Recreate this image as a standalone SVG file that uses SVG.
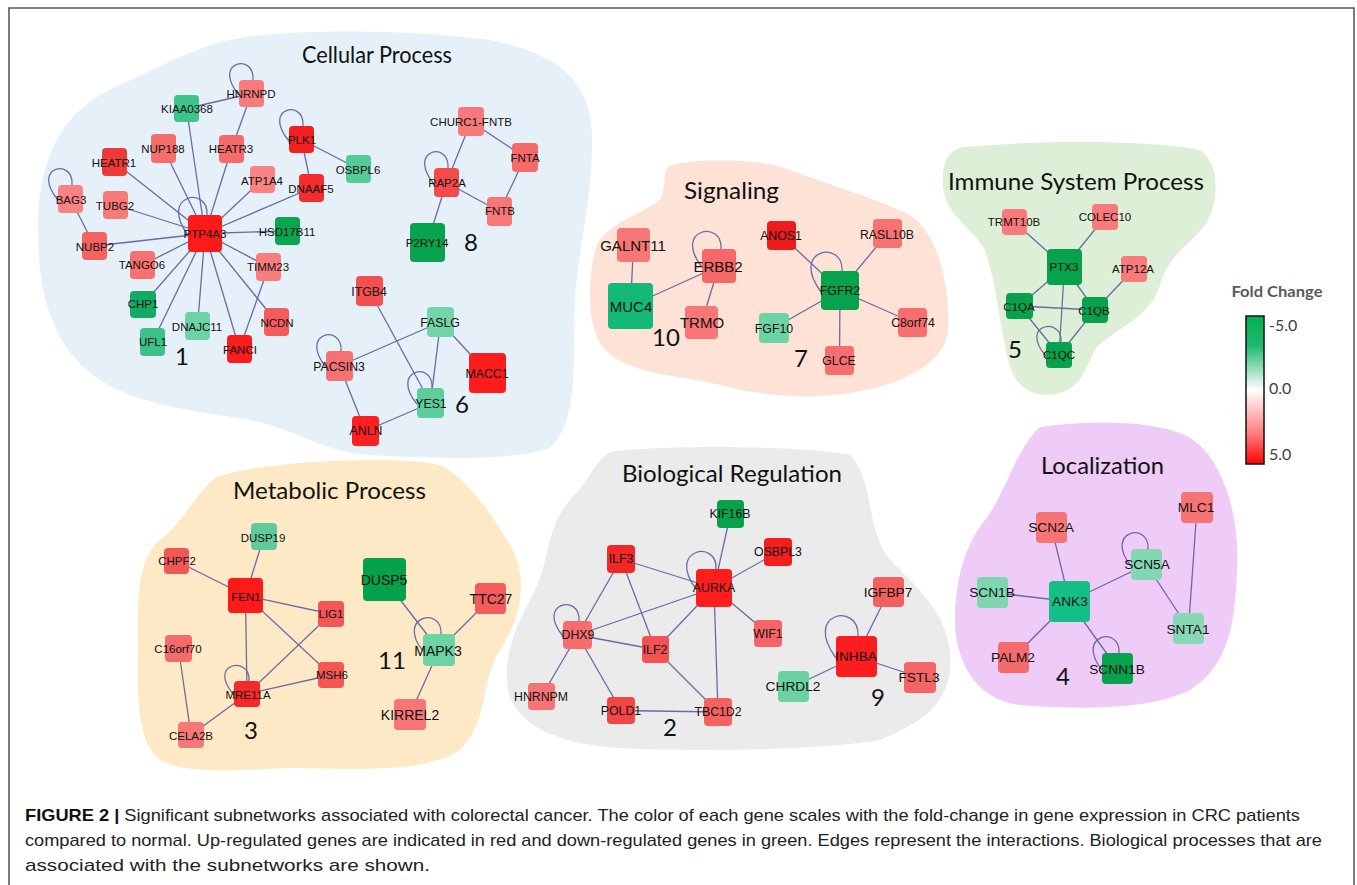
<svg xmlns="http://www.w3.org/2000/svg" width="1357" height="885" viewBox="0 0 1357 885">
<style>
.e{stroke:#6a6aa8;stroke-width:1.3;fill:none}
.n rect{rx:4;ry:4}
.n text{font-family:"Liberation Sans",Arial,sans-serif;text-anchor:middle;fill:#111}
.s11 text{font-size:11.5px}
.s12 text{font-size:12.3px}
.s13 text{font-size:13.7px}
.s14 text{font-size:14px}
.s15 text{font-size:15px}
.ti{font-family:Lato,"Open Sans",sans-serif;font-size:24px;fill:#111}
.num{font-family:Lato,"Open Sans",sans-serif;font-size:24px;fill:#111;text-anchor:middle}
.cap{font-family:"Liberation Sans",Arial,sans-serif;font-size:17px;fill:#222}
.lg{font-family:Lato,"Open Sans",sans-serif;font-size:16px;fill:#404040}
</style>
<defs>
<linearGradient id="fc" x1="0" y1="0" x2="0" y2="1">
<stop offset="0" stop-color="#00b050"/>
<stop offset="0.2" stop-color="#20b870"/>
<stop offset="0.5" stop-color="#ffffff"/>
<stop offset="0.8" stop-color="#ff7a7a"/>
<stop offset="1" stop-color="#ff0000"/>
</linearGradient>
</defs>
<rect width="1357" height="885" fill="#ffffff"/>
<path d="M9,885 V8 H1354 V885" fill="none" stroke="#5a5a5a" stroke-width="1.6"/>

<g id="blobs">
<path id="blob-cellular" fill="#e5f0f8" d="M240,38 C300,28 420,30 490,40 C560,55 595,80 592,150 C590,210 578,250 575,300 C572,360 580,420 550,448 C510,462 420,458 370,455 C320,452 300,430 250,420 C190,410 140,405 100,380 C55,350 38,300 38,230 C38,160 60,110 120,85 C170,62 200,45 240,38 Z"/>
<path id="blob-signaling" fill="#fde2d5" d="M672,165 C700,158 760,158 790,170 C830,185 880,200 910,215 C940,235 950,290 948,330 C945,365 900,385 850,393 C800,400 760,395 720,385 C680,375 630,375 605,350 C585,325 588,280 595,250 C602,225 640,215 660,200 C668,185 660,170 672,165 Z"/>
<path id="blob-immune" fill="#ddefd6" d="M965,147 C1040,140 1150,140 1200,150 C1222,165 1218,205 1205,225 C1190,245 1168,255 1160,285 C1150,320 1110,330 1095,350 C1085,370 1080,392 1050,395 C1015,395 1010,370 1005,345 C998,310 995,280 985,250 C970,225 945,215 943,185 C942,160 948,150 965,147 Z"/>
<path id="blob-metabolic" fill="#fde9c6" d="M215,478 C260,460 400,455 440,465 C470,480 495,520 510,545 C530,580 520,620 500,650 C480,680 490,720 460,750 C420,775 350,768 290,768 C240,770 190,775 160,760 C135,740 138,690 138,640 C138,590 138,560 160,540 C185,520 195,495 215,478 Z"/>
<path id="blob-bioreg" fill="#ebebeb" d="M610,452 C660,445 800,445 850,455 C875,480 865,530 890,560 C920,590 955,620 950,670 C945,710 915,725 880,740 C820,750 700,752 620,748 C560,745 515,725 508,690 C502,650 520,620 535,590 C550,560 545,530 570,500 C590,480 595,460 610,452 Z"/>
<path id="blob-local" fill="#efcbf8" d="M1040,427 C1090,420 1150,420 1185,435 C1225,455 1240,520 1237,570 C1235,620 1230,665 1190,690 C1150,710 1080,710 1020,705 C975,700 955,660 955,620 C955,580 965,545 985,520 C1005,495 1015,450 1040,427 Z"/>
</g>

<g id="titles">
<text class="ti" x="302" y="63" textLength="150" lengthAdjust="spacingAndGlyphs">Cellular Process</text>
<text class="ti" x="684" y="199" textLength="95" lengthAdjust="spacingAndGlyphs">Signaling</text>
<text class="ti" x="948" y="190" textLength="256" lengthAdjust="spacingAndGlyphs">Immune System Process</text>
<text class="ti" x="233" y="499" textLength="193" lengthAdjust="spacingAndGlyphs">Metabolic Process</text>
<text class="ti" x="622" y="482" textLength="220" lengthAdjust="spacingAndGlyphs">Biological Regulation</text>
<text class="ti" x="1041" y="474" textLength="123" lengthAdjust="spacingAndGlyphs">Localization</text>
</g>

<g id="connectors" class="e">
<!-- cluster 1 -->
<line x1="251.5" y1="93.5" x2="186.5" y2="108.5"/>
<line x1="251.5" y1="93.5" x2="231.5" y2="149"/>
<line x1="186.5" y1="108.5" x2="205" y2="233.5"/>
<line x1="163.5" y1="148.5" x2="205" y2="233.5"/>
<line x1="231.5" y1="149" x2="205" y2="233.5"/>
<line x1="114.5" y1="162" x2="205" y2="233.5"/>
<line x1="301.5" y1="139.5" x2="358.5" y2="169"/>
<line x1="301.5" y1="139.5" x2="311.5" y2="188"/>
<line x1="262.5" y1="179.5" x2="205" y2="233.5"/>
<line x1="311.5" y1="188" x2="205" y2="233.5"/>
<line x1="70.5" y1="199" x2="94.5" y2="246"/>
<line x1="115.5" y1="205" x2="205" y2="233.5"/>
<line x1="287.5" y1="231" x2="205" y2="233.5"/>
<line x1="94.5" y1="246" x2="205" y2="233.5"/>
<line x1="142.5" y1="265" x2="205" y2="233.5"/>
<line x1="268.5" y1="267" x2="205" y2="233.5"/>
<line x1="268.5" y1="267" x2="239.5" y2="349"/>
<line x1="143" y1="304.5" x2="205" y2="233.5"/>
<line x1="197.5" y1="326" x2="205" y2="233.5"/>
<line x1="276.5" y1="322" x2="205" y2="233.5"/>
<line x1="152.5" y1="342" x2="205" y2="233.5"/>
<line x1="239.5" y1="349" x2="205" y2="233.5"/>
<path d="M253,80 C255,52 211,62 239,95"/>
<path d="M303,126 C305,98 261,108 289,141"/>
<path d="M72,185 C74,157 30,167 58,200"/>
<path d="M207,215 C209,185 158,195 188,235"/>
<!-- cluster 8 -->
<line x1="471" y1="121.5" x2="446.5" y2="182.5"/>
<line x1="471" y1="121.5" x2="525" y2="157.5"/>
<line x1="525" y1="157.5" x2="499.5" y2="211.5"/>
<line x1="446.5" y1="182.5" x2="499.5" y2="211.5"/>
<line x1="446.5" y1="182.5" x2="427.5" y2="242.5"/>
<path d="M448,168 C450,140 406,150 434,184"/>
<!-- cluster 6 -->
<line x1="369.5" y1="291" x2="430.5" y2="403"/>
<line x1="440.5" y1="322" x2="339.5" y2="366"/>
<line x1="440.5" y1="322" x2="430.5" y2="403"/>
<line x1="440.5" y1="322" x2="487.5" y2="373"/>
<line x1="339.5" y1="366" x2="365.5" y2="431"/>
<line x1="365.5" y1="431" x2="430.5" y2="403"/>
<path d="M341,351 C343,323 298,333 326,367"/>
<path d="M432,388 C434,360 389,370 417,404"/>
<!-- cluster 10 -->
<line x1="633.5" y1="245" x2="630.5" y2="306"/>
<line x1="630.5" y1="306" x2="719" y2="266"/>
<line x1="719" y1="266" x2="701.5" y2="322.5"/>
<path d="M721,249 C723,219 672,229 702,267"/>
<!-- cluster 7 -->
<line x1="781.5" y1="235.5" x2="840" y2="290.5"/>
<line x1="887.5" y1="233.5" x2="840" y2="290.5"/>
<line x1="840" y1="290.5" x2="774" y2="328"/>
<line x1="840" y1="290.5" x2="912.5" y2="322.5"/>
<line x1="840" y1="290.5" x2="839.5" y2="360.5"/>
<path d="M842,271 C844,239 789,249 821,292"/>
<!-- cluster 5 -->
<line x1="1014.5" y1="222" x2="1064.5" y2="267"/>
<line x1="1105" y1="217" x2="1064.5" y2="267"/>
<line x1="1064.5" y1="267" x2="1019.5" y2="306"/>
<line x1="1064.5" y1="267" x2="1095" y2="310"/>
<line x1="1064.5" y1="267" x2="1059" y2="355"/>
<line x1="1134" y1="269" x2="1095" y2="310"/>
<line x1="1019.5" y1="306" x2="1095" y2="310"/>
<line x1="1019.5" y1="306" x2="1059" y2="355"/>
<line x1="1095" y1="310" x2="1059" y2="355"/>
<path d="M1061,342 C1063,316 1018,324 1046,356"/>
<!-- cluster 3 -->
<line x1="264" y1="536.5" x2="245.5" y2="595.5"/>
<line x1="176.5" y1="561" x2="245.5" y2="595.5"/>
<line x1="245.5" y1="595.5" x2="331" y2="614"/>
<line x1="245.5" y1="595.5" x2="331" y2="675"/>
<line x1="245.5" y1="595.5" x2="247" y2="694"/>
<line x1="331" y1="614" x2="247" y2="694"/>
<line x1="331" y1="675" x2="247" y2="694"/>
<line x1="247" y1="694" x2="191" y2="735"/>
<line x1="178.5" y1="648.5" x2="191" y2="735"/>
<path d="M249,681 C251,655 206,663 234,695"/>
<!-- cluster 11 -->
<line x1="384.5" y1="579.5" x2="439" y2="650"/>
<line x1="490.5" y1="598.5" x2="439" y2="650"/>
<line x1="439" y1="650" x2="410" y2="714.5"/>
<path d="M441,634 C443,606 395,616 423,651"/>
<!-- cluster 2 -->
<line x1="730.5" y1="514" x2="714" y2="588"/>
<line x1="778" y1="552" x2="714" y2="588"/>
<line x1="621" y1="559" x2="714" y2="588"/>
<line x1="621" y1="559" x2="577.5" y2="635"/>
<line x1="621" y1="559" x2="655.5" y2="649.5"/>
<line x1="714" y1="588" x2="577.5" y2="635"/>
<line x1="714" y1="588" x2="655.5" y2="649.5"/>
<line x1="714" y1="588" x2="768" y2="633.5"/>
<line x1="714" y1="588" x2="718" y2="712"/>
<line x1="577.5" y1="635" x2="655.5" y2="649.5"/>
<line x1="577.5" y1="635" x2="541.5" y2="696.5"/>
<line x1="577.5" y1="635" x2="621" y2="710.5"/>
<line x1="655.5" y1="649.5" x2="718" y2="712"/>
<line x1="621" y1="710.5" x2="718" y2="712"/>
<path d="M716,569 C718,539 666,549 696,589"/>
<path d="M579,621 C581,593 535,603 563,636"/>
<!-- cluster 9 -->
<line x1="888.5" y1="592" x2="856.5" y2="656.5"/>
<line x1="856.5" y1="656.5" x2="920" y2="677.5"/>
<line x1="856.5" y1="656.5" x2="793.5" y2="686.5"/>
<path d="M858,636 C860,602 802,612 836,658"/>
<!-- cluster 4 -->
<line x1="1051.5" y1="527.5" x2="1069.5" y2="601.5"/>
<line x1="992.5" y1="592.5" x2="1069.5" y2="601.5"/>
<line x1="1013.5" y1="657.5" x2="1069.5" y2="601.5"/>
<line x1="1069.5" y1="601.5" x2="1146.5" y2="564.5"/>
<line x1="1069.5" y1="601.5" x2="1117.5" y2="668.5"/>
<line x1="1146.5" y1="564.5" x2="1188.5" y2="628.5"/>
<line x1="1197" y1="507.5" x2="1188.5" y2="628.5"/>
<path d="M1148,549 C1150,521 1103,531 1131,566"/>
<path d="M1119,653 C1121,625 1074,635 1102,670"/>
</g>

<g id="cluster1" class="n s11">
<g id="HNRNPD"><rect x="239" y="80" width="25" height="27" fill="#f77b7b"/><text x="251" y="98">HNRNPD</text></g>
<g id="KIAA0368"><rect x="174" y="95" width="25" height="27" fill="#3cc48a"/><text x="187" y="113">KIAA0368</text></g>
<g id="NUP188"><rect x="151" y="134" width="25" height="29" fill="#f56e6e"/><text x="163" y="153">NUP188</text></g>
<g id="HEATR3"><rect x="219" y="135" width="25" height="28" fill="#f56a6a"/><text x="231" y="153">HEATR3</text></g>
<g id="HEATR1"><rect x="102" y="148" width="25" height="28" fill="#f03a3a"/><text x="114" y="167">HEATR1</text></g>
<g id="PLK1"><rect x="289" y="126" width="25" height="27" fill="#f41f1f"/><text x="302" y="144">PLK1</text></g>
<g id="OSBPL6"><rect x="346" y="155" width="25" height="28" fill="#55cc97"/><text x="358" y="174">OSBPL6</text></g>
<g id="ATP1A4"><rect x="250" y="166" width="25" height="27" fill="#f98383"/><text x="262" y="185">ATP1A4</text></g>
<g id="DNAAF5"><rect x="299" y="174" width="25" height="28" fill="#f42c2c"/><text x="311" y="193">DNAAF5</text></g>
<g id="BAG3"><rect x="58" y="185" width="25" height="28" fill="#f88383"/><text x="71" y="204">BAG3</text></g>
<g id="TUBG2"><rect x="103" y="191" width="25" height="28" fill="#f77a7a"/><text x="115" y="210">TUBG2</text></g>
<g id="PTP4A3"><rect x="188" y="215" width="34" height="37" fill="#ff1a1a"/><text x="205" y="238">PTP4A3</text></g>
<g id="HSD17B11"><rect x="275" y="217" width="25" height="28" fill="#06a750"/><text x="287" y="236">HSD17B11</text></g>
<g id="NUBP2"><rect x="82" y="232" width="25" height="28" fill="#f56262"/><text x="95" y="251">NUBP2</text></g>
<g id="TANGO6"><rect x="130" y="251" width="25" height="28" fill="#f67272"/><text x="142" y="269">TANGO6</text></g>
<g id="TIMM23"><rect x="256" y="253" width="25" height="28" fill="#f87e7e"/><text x="268" y="271">TIMM23</text></g>
<g id="CHP1"><rect x="130" y="291" width="26" height="27" fill="#11ab63"/><text x="143" y="308">CHP1</text></g>
<g id="DNAJC11"><rect x="185" y="312" width="25" height="28" fill="#6dd3a6"/><text x="197" y="331">DNAJC11</text></g>
<g id="NCDN"><rect x="264" y="308" width="25" height="28" fill="#f55b5b"/><text x="277" y="327">NCDN</text></g>
<g id="UFL1"><rect x="140" y="328" width="25" height="28" fill="#3cc289"/><text x="153" y="346">UFL1</text></g>
<g id="FANCI"><rect x="227" y="335" width="25" height="28" fill="#fb1c1c"/><text x="240" y="354">FANCI</text></g>
</g>

<g id="cluster8" class="n s11">
<g id="CHURC1-FNTB"><rect x="458" y="107" width="26" height="29" fill="#f77a7a"/><text x="471" y="126">CHURC1-FNTB</text></g>
<g id="FNTA"><rect x="512" y="143" width="26" height="29" fill="#f66a6a"/><text x="525" y="162">FNTA</text></g>
<g id="RAP2A"><rect x="434" y="168" width="25" height="29" fill="#f34a4a"/><text x="447" y="187">RAP2A</text></g>
<g id="FNTB"><rect x="487" y="197" width="25" height="29" fill="#f87878"/><text x="500" y="215">FNTB</text></g>
<g id="P2RY14"><rect x="410" y="223" width="35" height="39" fill="#08a34e"/><text x="427" y="247">P2RY14</text></g>
</g>

<g id="cluster6" class="n s12">
<g id="ITGB4"><rect x="356" y="276" width="27" height="30" fill="#f45050"/><text x="369" y="296">ITGB4</text></g>
<g id="FASLG"><rect x="427" y="307" width="27" height="30" fill="#72d4a8"/><text x="440" y="327">FASLG</text></g>
<g id="PACSIN3"><rect x="326" y="351" width="27" height="30" fill="#f67272"/><text x="339" y="371">PACSIN3</text></g>
<g id="MACC1"><rect x="469" y="353" width="37" height="40" fill="#ff1c1c"/><text x="487" y="378">MACC1</text></g>
<g id="YES1"><rect x="417" y="388" width="27" height="30" fill="#5ecd9c"/><text x="431" y="408">YES1</text></g>
<g id="ANLN"><rect x="352" y="416" width="27" height="30" fill="#ff1f1f"/><text x="366" y="435">ANLN</text></g>
</g>

<g id="cluster10" class="n s15">
<g id="GALNT11"><rect x="617" y="228" width="33" height="34" fill="#f77676"/><text x="633" y="251">GALNT11</text></g>
<g id="ERBB2"><rect x="702" y="249" width="34" height="34" fill="#f56868"/><text x="718" y="272">ERBB2</text></g>
<g id="MUC4"><rect x="608" y="283" width="45" height="46" fill="#14b97a"/><text x="631" y="312">MUC4</text></g>
<g id="TRMO"><rect x="685" y="306" width="33" height="33" fill="#f77676"/><text x="702" y="328">TRMO</text></g>
</g>

<g id="cluster7" class="n s12">
<g id="ANOS1"><rect x="767" y="221" width="29" height="29" fill="#ee1c1c"/><text x="781" y="240">ANOS1</text></g>
<g id="RASL10B"><rect x="873" y="219" width="29" height="29" fill="#f77272"/><text x="887" y="239">RASL10B</text></g>
<g id="FGFR2"><rect x="821" y="271" width="38" height="39" fill="#07a24c"/><text x="840" y="295">FGFR2</text></g>
<g id="FGF10"><rect x="759" y="313" width="30" height="30" fill="#6bd3a4"/><text x="774" y="333">FGF10</text></g>
<g id="C8orf74"><rect x="898" y="308" width="29" height="29" fill="#f76e6e"/><text x="913" y="327">C8orf74</text></g>
<g id="GLCE"><rect x="825" y="346" width="29" height="29" fill="#f76e6e"/><text x="839" y="365">GLCE</text></g>
</g>

<g id="cluster5" class="n s11">
<g id="TRMT10B"><rect x="1002" y="209" width="25" height="26" fill="#f87a7a"/><text x="1014" y="226">TRMT10B</text></g>
<g id="COLEC10"><rect x="1092" y="204" width="26" height="26" fill="#f87a7a"/><text x="1105" y="221">COLEC10</text></g>
<g id="PTX3"><rect x="1047" y="249" width="35" height="36" fill="#07a24c"/><text x="1064" y="271">PTX3</text></g>
<g id="ATP12A"><rect x="1121" y="256" width="26" height="26" fill="#f87a7a"/><text x="1133" y="273">ATP12A</text></g>
<g id="C1QA"><rect x="1006" y="293" width="27" height="26" fill="#07a24c"/><text x="1019" y="311">C1QA</text></g>
<g id="C1QB"><rect x="1082" y="297" width="26" height="26" fill="#07a24c"/><text x="1094" y="315">C1QB</text></g>
<g id="C1QC"><rect x="1046" y="342" width="26" height="26" fill="#07a24c"/><text x="1059" y="359">C1QC</text></g>
</g>

<g id="cluster3" class="n s11">
<g id="DUSP19"><rect x="251" y="523" width="26" height="27" fill="#5fcb9c"/><text x="263" y="542">DUSP19</text></g>
<g id="CHPF2"><rect x="164" y="548" width="25" height="26" fill="#f05858"/><text x="177" y="565">CHPF2</text></g>
<g id="FEN1"><rect x="228" y="578" width="35" height="35" fill="#ff1a1a"/><text x="246" y="601">FEN1</text></g>
<g id="LIG1"><rect x="318" y="601" width="26" height="26" fill="#f45555"/><text x="331" y="618">LIG1</text></g>
<g id="C16orf70"><rect x="165" y="635" width="27" height="27" fill="#f56a6a"/><text x="178" y="653">C16orf70</text></g>
<g id="MSH6"><rect x="318" y="662" width="26" height="26" fill="#f45656"/><text x="332" y="679">MSH6</text></g>
<g id="MRE11A"><rect x="234" y="681" width="26" height="26" fill="#f42a2a"/><text x="248" y="699">MRE11A</text></g>
<g id="CELA2B"><rect x="178" y="722" width="26" height="26" fill="#f77878"/><text x="191" y="740">CELA2B</text></g>
</g>

<g id="cluster11" class="n s14">
<g id="DUSP5"><rect x="363" y="558" width="43" height="43" fill="#06a24b"/><text x="384" y="585">DUSP5</text></g>
<g id="TTC27"><rect x="475" y="583" width="31" height="31" fill="#f45b5b"/><text x="491" y="604">TTC27</text></g>
<g id="MAPK3"><rect x="423" y="634" width="32" height="32" fill="#6cd3a5"/><text x="438" y="656">MAPK3</text></g>
<g id="KIRREL2"><rect x="394" y="699" width="32" height="31" fill="#f77575"/><text x="410" y="720">KIRREL2</text></g>
</g>

<g id="cluster2" class="n s12">
<g id="KIF16B"><rect x="717" y="500" width="27" height="28" fill="#07a24c"/><text x="730" y="518">KIF16B</text></g>
<g id="ILF3"><rect x="607" y="545" width="28" height="28" fill="#f42626"/><text x="621" y="563">ILF3</text></g>
<g id="OSBPL3"><rect x="764" y="538" width="28" height="28" fill="#f51e1e"/><text x="778" y="556">OSBPL3</text></g>
<g id="AURKA"><rect x="696" y="569" width="36" height="38" fill="#ff1d1d"/><text x="714" y="592">AURKA</text></g>
<g id="DHX9"><rect x="563" y="621" width="29" height="28" fill="#f56d6d"/><text x="578" y="639">DHX9</text></g>
<g id="WIF1"><rect x="754" y="620" width="28" height="27" fill="#f56565"/><text x="768" y="638">WIF1</text></g>
<g id="ILF2"><rect x="642" y="636" width="27" height="27" fill="#f45252"/><text x="655" y="654">ILF2</text></g>
<g id="HNRNPM"><rect x="528" y="683" width="27" height="27" fill="#f67474"/><text x="541" y="701">HNRNPM</text></g>
<g id="POLD1"><rect x="607" y="697" width="28" height="27" fill="#f34545"/><text x="621" y="715">POLD1</text></g>
<g id="TBC1D2"><rect x="704" y="698" width="28" height="28" fill="#f56161"/><text x="718" y="716">TBC1D2</text></g>
</g>

<g id="cluster9" class="n s13">
<g id="IGFBP7"><rect x="873" y="577" width="31" height="30" fill="#f45f5f"/><text x="888" y="597">IGFBP7</text></g>
<g id="INHBA"><rect x="836" y="636" width="41" height="41" fill="#ff1c1c"/><text x="856" y="661">INHBA</text></g>
<g id="FSTL3"><rect x="904" y="662" width="32" height="31" fill="#f56565"/><text x="919" y="682">FSTL3</text></g>
<g id="CHRDL2"><rect x="778" y="671" width="31" height="31" fill="#6ad2a3"/><text x="793" y="691">CHRDL2</text></g>
</g>

<g id="cluster4" class="n s13">
<g id="MLC1"><rect x="1181" y="492" width="32" height="31" fill="#f77474"/><text x="1196" y="512">MLC1</text></g>
<g id="SCN2A"><rect x="1036" y="512" width="31" height="31" fill="#f77474"/><text x="1051" y="532">SCN2A</text></g>
<g id="SCN5A"><rect x="1131" y="549" width="31" height="31" fill="#83d8b3"/><text x="1147" y="569">SCN5A</text></g>
<g id="SCN1B"><rect x="977" y="577" width="31" height="31" fill="#7dd6af"/><text x="992" y="597">SCN1B</text></g>
<g id="ANK3"><rect x="1049" y="581" width="41" height="41" fill="#14bf85"/><text x="1070" y="606">ANK3</text></g>
<g id="SNTA1"><rect x="1173" y="613" width="31" height="31" fill="#86d9b4"/><text x="1188" y="634">SNTA1</text></g>
<g id="PALM2"><rect x="998" y="642" width="31" height="31" fill="#f56a6a"/><text x="1013" y="662">PALM2</text></g>
<g id="SCNN1B"><rect x="1102" y="653" width="31" height="31" fill="#07a24c"/><text x="1117" y="674">SCNN1B</text></g>
</g>

<g id="numbers">
<text class="num" x="182" y="365">1</text>
<text class="num" x="471" y="251">8</text>
<text class="num" x="462" y="413">6</text>
<text class="num" x="666" y="346">10</text>
<text class="num" x="801" y="367">7</text>
<text class="num" x="1015" y="358">5</text>
<text class="num" x="251" y="739">3</text>
<text class="num" x="392" y="669">11</text>
<text class="num" x="670" y="736">2</text>
<text class="num" x="878" y="706">9</text>
<text class="num" x="1063" y="685">4</text>
</g>

<g id="legend">
<text x="1277" y="297" text-anchor="middle" font-family="Lato,'Open Sans',sans-serif" font-weight="bold" font-size="15" fill="#595959" textLength="91" lengthAdjust="spacingAndGlyphs">Fold Change</text>
<rect x="1246" y="316" width="18" height="148" fill="url(#fc)" stroke="#111" stroke-width="1.5"/>
<text class="lg" x="1269" y="331">-5.0</text>
<text class="lg" x="1269" y="394">0.0</text>
<text class="lg" x="1269" y="460">5.0</text>
</g>

<g id="caption">
<text class="cap" x="25" y="821" textLength="1275" lengthAdjust="spacingAndGlyphs"><tspan font-weight="bold" fill="#111">FIGURE 2 |</tspan> Significant subnetworks associated with colorectal cancer. The color of each gene scales with the fold-change in gene expression in CRC patients</text>
<text class="cap" x="25" y="846" textLength="1297" lengthAdjust="spacingAndGlyphs">compared to normal. Up-regulated genes are indicated in red and down-regulated genes in green. Edges represent the interactions. Biological processes that are</text>
<text class="cap" x="25" y="871" textLength="405" lengthAdjust="spacingAndGlyphs">associated with the subnetworks are shown.</text>
</g>
</svg>
